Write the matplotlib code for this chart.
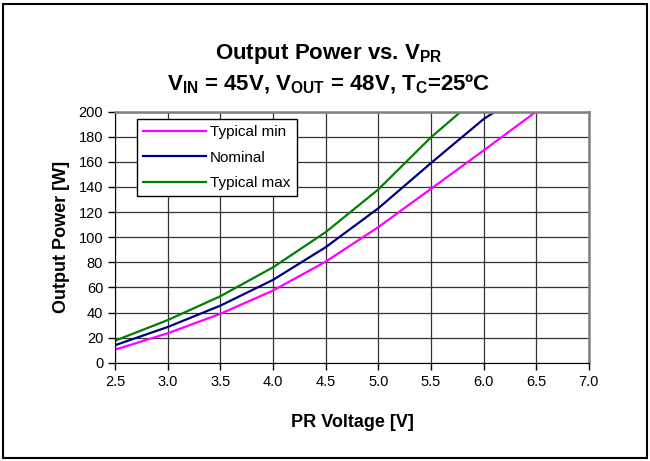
import matplotlib
matplotlib.use("Agg")
import matplotlib.pyplot as plt
from matplotlib.patches import Rectangle

plt.rcParams['font.family'] = ['Liberation Sans', 'DejaVu Sans']
plt.rcParams['mathtext.fontset'] = 'custom'
plt.rcParams['mathtext.rm'] = 'Liberation Sans:bold'
plt.rcParams['mathtext.it'] = 'Liberation Sans:bold'
plt.rcParams['mathtext.bf'] = 'Liberation Sans:bold'

# Data
v_min = [2.5, 3.0, 3.5, 4.0, 4.5, 5.0, 5.5, 6.0, 6.5]
p_min = [10.5, 23.5, 39, 57.5, 80.5, 108, 138.5, 169, 200]

v_nom = [2.5, 3.0, 3.5, 4.0, 4.5, 5.0, 5.5, 6.0, 6.11]
p_nom = [14, 28.5, 45.5, 66, 92, 123, 159, 194, 200]

v_max = [2.5, 3.0, 3.5, 4.0, 4.5, 5.0, 5.5, 5.785]
p_max = [17.6, 34, 53, 76, 104, 138, 179.5, 200]

x_ticks = [2.5, 3.0, 3.5, 4.0, 4.5, 5.0, 5.5, 6.0, 6.5, 7.0]
y_ticks = list(range(0, 201, 20))

fig = plt.figure(figsize=(6.5, 4.61), dpi=100)
ax = fig.add_axes([0.177, 0.213, 0.729, 0.545])

ax.plot(v_min, p_min, color='#FF00FF', lw=1.6, label='Typical min')
ax.plot(v_nom, p_nom, color='#000080', lw=1.6, label='Nominal')
ax.plot(v_max, p_max, color='#008000', lw=1.6, label='Typical max')

ax.set_xlim(2.5, 7.0)
ax.set_ylim(0, 200)
ax.set_xticks(x_ticks)
ax.set_xticklabels([f"{t:.1f}" for t in x_ticks])
ax.set_yticks(y_ticks)
ax.tick_params(labelsize=10.5, direction='out', length=5, width=1, color='black')
ax.grid(True, color='#333333', lw=0.9)
ax.set_axisbelow(True)
for s in ['left', 'bottom']:
    ax.spines[s].set_color('black')
for s in ['top', 'right']:
    ax.spines[s].set_color('#808080')
    ax.spines[s].set_linewidth(1.8)

ax.set_xlabel("PR Voltage [V]", fontsize=13, fontweight='bold', labelpad=18)
ax.set_ylabel("Output Power [W]", fontsize=13, fontweight='bold', labelpad=6)

leg = ax.legend(loc='upper left', bbox_to_anchor=(0.046, 0.97), fontsize=11,
                frameon=True, fancybox=False, framealpha=1, edgecolor='black',
                handlelength=4.1, handletextpad=0.3, borderpad=0.4,
                labelspacing=0.75, borderaxespad=0)
leg.get_frame().set_linewidth(1)

fig.text(0.505, 0.883, r"Output Power vs. V$_{PR}$", ha='center', va='center',
         fontsize=16, fontweight='bold')
fig.text(0.505, 0.818, r"V$_{IN}$ = 45V, V$_{OUT}$ = 48V, T$_{C}$=25ºC",
         ha='center', va='center', fontsize=16, fontweight='bold')

fig.patches.append(Rectangle((0.004, 0.006), 0.992, 0.986, transform=fig.transFigure,
                             fill=False, edgecolor='black', lw=1.5))

fig.savefig("out.png", dpi=100)
